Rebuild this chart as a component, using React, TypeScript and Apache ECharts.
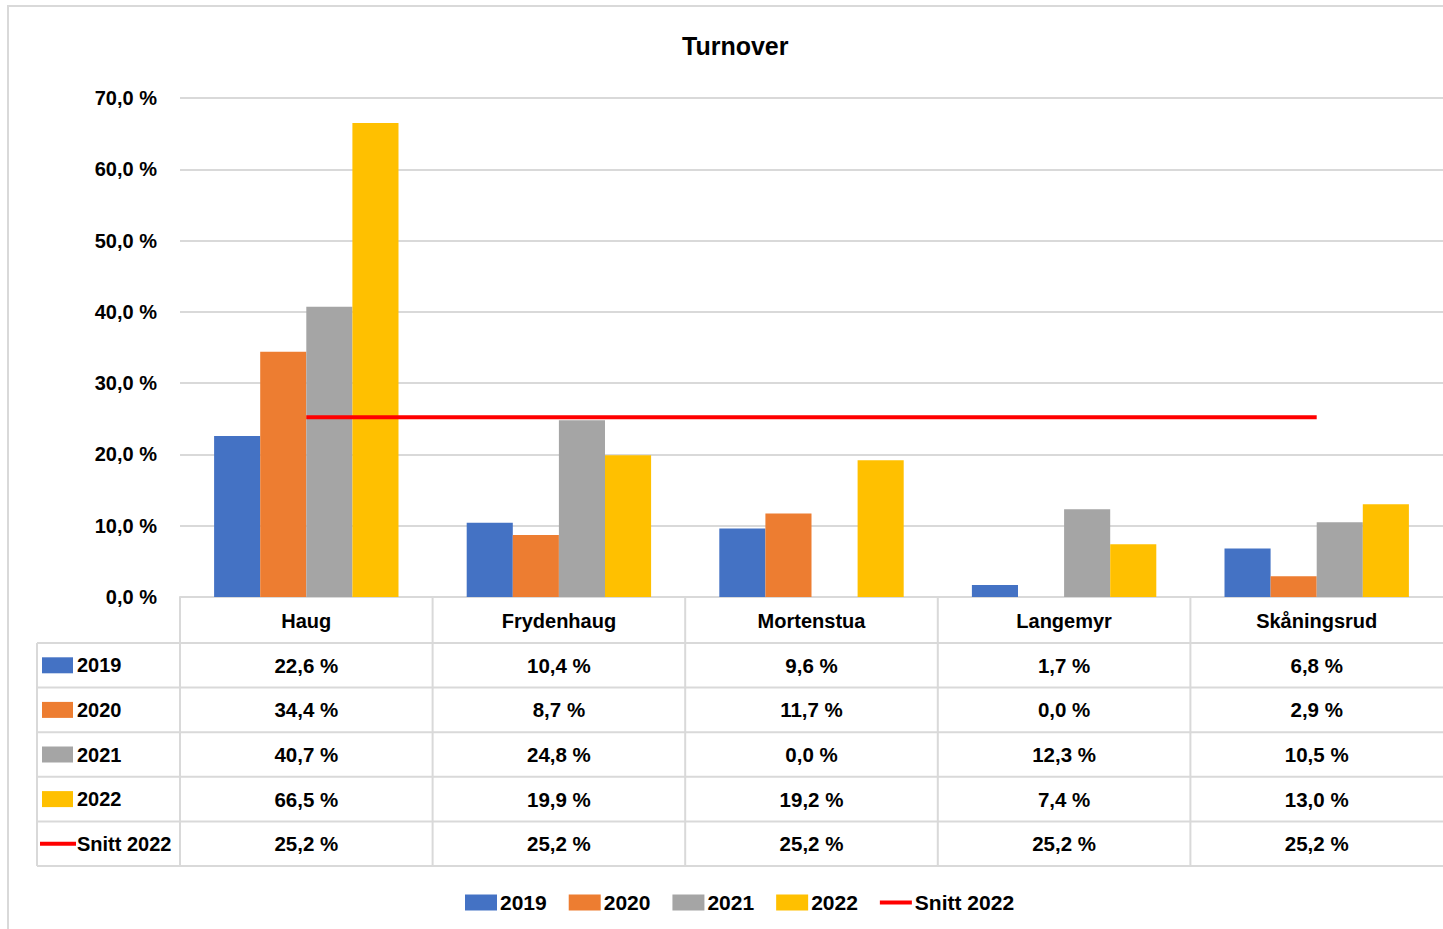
import React, { useEffect, useRef } from "react";
import * as echarts from "echarts";

const categories = ["Haug", "Frydenhaug", "Mortenstua", "Langemyr", "Skåningsrud"];
const seriesNames = ["2019", "2020", "2021", "2022", "Snitt 2022"];
const v2019 = [22.6, 10.4, 9.6, 1.7, 6.8];
const v2020 = [34.4, 8.7, 11.7, 0.0, 2.9];
const v2021 = [40.7, 24.8, 0.0, 12.3, 10.5];
const v2022 = [66.5, 19.9, 19.2, 7.4, 13.0];
const snitt2022 = [25.2, 25.2, 25.2, 25.2, 25.2];
const yMin = 0;
const yMax = 70;
const yInterval = 10;

const colors = ["#4472C4", "#ED7D31", "#A5A5A5", "#FFC000", "#FF0000"];
const FONT = "'Liberation Sans', Arial, sans-serif";
const GRID = "#D9D9D9";

const fmt = (v: number) => v.toFixed(1).replace(".", ",") + " %";

export default function App() {
  const ref = useRef<HTMLDivElement>(null);
  useEffect(() => {
    if (!ref.current) return;
    const chart = echarts.init(ref.current, undefined, { renderer: "svg" });
    const gridLeft = 180;
    const gridTop = 98;
    const gridBottomY = 597;
    const H = 929;
    const W = 1443;
    const rowTop = 643;
    const rowH = 44.6;
    const allRows = [v2019, v2020, v2021, v2022, snitt2022];

    chart.setOption({
      animation: false,
      color: colors,
      textStyle: { fontFamily: FONT },
      title: {
        text: "Turnover",
        left: 677,
        top: 28,
        textStyle: { fontFamily: FONT, fontSize: 25, fontWeight: "bold", color: "#000" },
      },
      legend: {
        left: 460,
        top: 887,
        itemWidth: 32,
        itemHeight: 16,
        itemGap: 22,
        textStyle: { fontFamily: FONT, fontSize: 21, fontWeight: "bold", color: "#000", padding: [0, 0, 0, -2] },
        data: seriesNames.map((n, i) =>
          i < 4
            ? { name: n, icon: "rect" }
            : { name: n, icon: "path://M0 0H32V4H0Z", itemStyle: { color: colors[4] } }
        ),
      },
      grid: {
        left: gridLeft,
        right: 0,
        top: gridTop,
        bottom: H - gridBottomY,
        containLabel: false,
      },
      xAxis: {
        type: "category",
        data: categories,
        axisLine: { lineStyle: { color: GRID, width: 2 } },
        axisTick: { show: false },
        axisLabel: {
          margin: 14,
          fontFamily: FONT,
          fontSize: 20,
          fontWeight: "bold",
          color: "#000",
        },
      },
      yAxis: {
        type: "value",
        min: yMin,
        max: yMax,
        interval: yInterval,
        axisLine: { show: false },
        axisTick: { show: false },
        splitLine: { lineStyle: { color: GRID, width: 2 } },
        axisLabel: {
          margin: 23,
          fontFamily: FONT,
          fontSize: 20,
          fontWeight: "bold",
          color: "#000",
          formatter: (v: number) => fmt(v),
        },
      },
      series: [
        ...[v2019, v2020, v2021, v2022].map((d, i) => ({
          name: seriesNames[i],
          type: "bar",
          data: d,
          barGap: "0%",
          barCategoryGap: "27%",
          itemStyle: { color: colors[i] },
        })),
        {
          name: seriesNames[4],
          type: "line",
          data: snitt2022,
          symbol: "none",
          lineStyle: { color: colors[4], width: 4 },
          itemStyle: { color: colors[4] },
          z: 5,
        },
      ],
    });

    // Build data table from axis geometry
    const centers = categories.map((_, i) => chart.convertToPixel({ xAxisIndex: 0 }, i) as number);
    const half = (centers[1] - centers[0]) / 2;
    const tableBottom = rowTop + rowH * allRows.length;
    const els: any[] = [];
    els.push({
      type: "rect",
      shape: { x: 8, y: 6, width: W + 20, height: H + 20 },
      style: { fill: "none", stroke: GRID, lineWidth: 2 },
      silent: true,
    });
    for (let r = 0; r <= allRows.length; r++) {
      const y = rowTop + rowH * r;
      els.push({
        type: "line",
        shape: { x1: 37, y1: y, x2: W, y2: y },
        style: { stroke: GRID, lineWidth: 2 },
        silent: true,
      });
    }
    els.push({
      type: "line",
      shape: { x1: 37, y1: rowTop, x2: 37, y2: tableBottom },
      style: { stroke: GRID, lineWidth: 2 },
      silent: true,
    });
    centers.forEach((c) => {
      const x = c - half;
      els.push({
        type: "line",
        shape: { x1: x, y1: gridBottomY, x2: x, y2: tableBottom },
        style: { stroke: GRID, lineWidth: 2 },
        silent: true,
      });
    });
    allRows.forEach((_, r) => {
      const cy = rowTop + rowH * (r + 0.5);
      if (r < 4) {
        els.push({
          type: "rect",
          shape: { x: 42, y: cy - 8, width: 31, height: 16 },
          style: { fill: colors[r] },
          silent: true,
        });
      } else {
        els.push({
          type: "line",
          shape: { x1: 40, y1: cy, x2: 76, y2: cy },
          style: { stroke: colors[4], lineWidth: 4 },
          silent: true,
        });
      }
      els.push({
        type: "text",
        x: 77,
        y: cy,
        style: {
          text: seriesNames[r],
          fontFamily: FONT,
          fontSize: 20,
          fontWeight: "bold",
          fill: "#000",
          textAlign: "left",
          textVerticalAlign: "middle",
        },
        silent: true,
      });
    });
    allRows.forEach((row, r) => {
      const cy = rowTop + rowH * (r + 0.5);
      row.forEach((v, i) => {
        els.push({
          type: "text",
          x: centers[i],
          y: cy,
          style: {
            text: fmt(v),
            fontFamily: FONT,
            fontSize: 20.5,
            fontWeight: "bold",
            fill: "#000",
            textAlign: "center",
            textVerticalAlign: "middle",
          },
          silent: true,
        });
      });
    });
    chart.setOption({ graphic: { elements: els } });

    return () => chart.dispose();
  }, []);
  return (
    <div
      ref={ref}
      style={{ position: "fixed", left: 0, top: 0, width: 1443, height: 929, background: "#fff" }}
    />
  );
}
